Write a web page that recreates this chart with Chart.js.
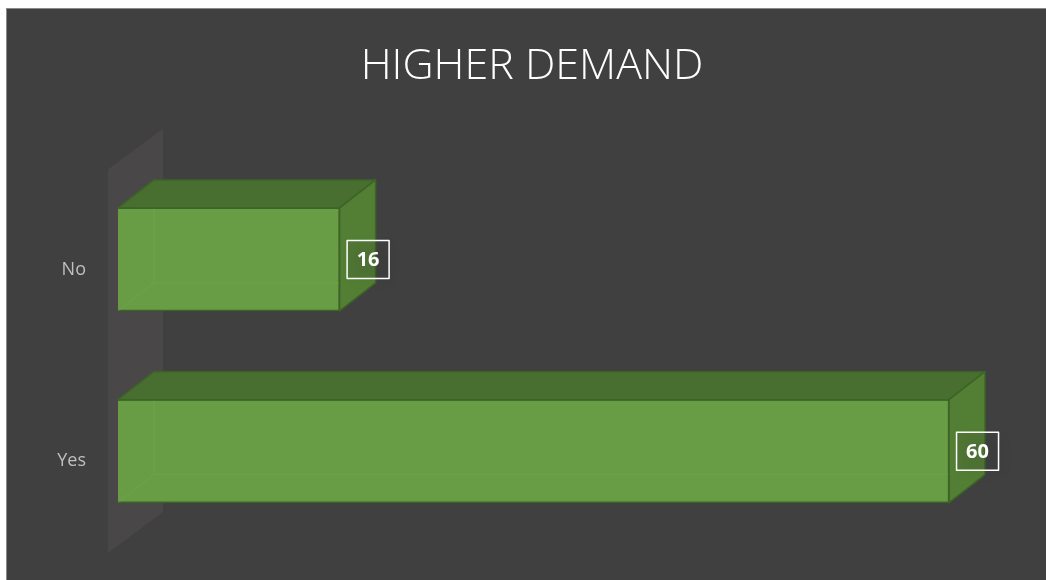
<!DOCTYPE html>
<html lang="en">
<head>
    <meta charset="UTF-8">
    <title>Higher Demand</title>
    <style>
        body {
            margin: 0;
            background-color: #ffffff;
            overflow: hidden;
        }
        #frame {
            position: absolute;
            left: 6px;
            top: 8px;
            border-left: 1px solid #8a8a8a;
            border-top: 1px solid #8a8a8a;
            background-color: #404040;
            width: 1039px;
            height: 571px;
        }
        #chart {
            display: block;
        }
    </style>
</head>
<body>
    <div id="frame">
        <canvas id="chart" width="1039" height="571"></canvas>
    </div>
<script src="https://cdn.jsdelivr.net/npm/chart.js"></script>
<script>
    // chart data
    const categories = ['No', 'Yes'];
    const responses = [16, 60];
    const chartTitle = 'HIGHER DEMAND';

    // 3D look
    const depthX = 36;
    const depthY = -28;
    const frontColor = '#689c45';
    const topColor = '#486e30';
    const sideColor = '#537f34';
    const edgeColor = '#3d6427';

    // back wall behind the bars
    const wallPlugin = {
        id: 'wall',
        beforeDatasetsDraw(chart) {
            const a = chart.chartArea;
            const ctx = chart.ctx;
            const x0 = a.left - 10;
            ctx.save();
            ctx.fillStyle = '#494748';
            ctx.beginPath();
            ctx.moveTo(x0, a.top + 6);
            ctx.lineTo(x0 + 55, a.top - 35);
            ctx.lineTo(x0 + 55, a.bottom - 35);
            ctx.lineTo(x0, a.bottom + 6);
            ctx.closePath();
            ctx.fill();
            ctx.restore();
        }
    };

    // top and side faces plus value boxes
    const boxPlugin = {
        id: 'box3d',
        afterDatasetsDraw(chart) {
            const ctx = chart.ctx;
            const meta = chart.getDatasetMeta(0);
            meta.data.forEach((bar, i) => {
                const p = bar.getProps(['x', 'y', 'base', 'height'], true);
                const left = p.base;
                const right = p.x;
                const top = p.y - p.height / 2;
                const bottom = p.y + p.height / 2;
                ctx.save();
                ctx.lineJoin = 'round';

                // hidden back edges seen through the front face
                ctx.strokeStyle = 'rgba(120,180,80,0.35)';
                ctx.lineWidth = 1;
                ctx.beginPath();
                ctx.moveTo(left + depthX, top + depthY);
                ctx.lineTo(left + depthX, bottom + depthY);
                ctx.lineTo(right + depthX, bottom + depthY);
                ctx.moveTo(left, bottom);
                ctx.lineTo(left + depthX, bottom + depthY);
                ctx.stroke();

                ctx.lineWidth = 1.5;
                ctx.strokeStyle = edgeColor;
                // top face
                ctx.fillStyle = topColor;
                ctx.beginPath();
                ctx.moveTo(left, top);
                ctx.lineTo(left + depthX, top + depthY);
                ctx.lineTo(right + depthX, top + depthY);
                ctx.lineTo(right, top);
                ctx.closePath();
                ctx.fill();
                ctx.stroke();

                // side face
                ctx.fillStyle = sideColor;
                ctx.beginPath();
                ctx.moveTo(right, top);
                ctx.lineTo(right + depthX, top + depthY);
                ctx.lineTo(right + depthX, bottom + depthY);
                ctx.lineTo(right, bottom);
                ctx.closePath();
                ctx.fill();
                ctx.stroke();

                // value label box
                const cx = right + 28.5;
                const cy = p.y;
                const w = 42, h = 38;
                ctx.shadowColor = 'rgba(0,0,0,0.45)';
                ctx.shadowBlur = 10;
                ctx.shadowOffsetX = 4;
                ctx.shadowOffsetY = 4;
                ctx.fillStyle = 'rgba(64,64,64,0.12)';
                ctx.fillRect(cx - w / 2, cy - h / 2, w, h);
                ctx.shadowColor = 'transparent';
                ctx.strokeStyle = '#ffffff';
                ctx.lineWidth = 1.5;
                ctx.strokeRect(cx - w / 2, cy - h / 2, w, h);
                ctx.fillStyle = '#ffffff';
                ctx.font = 'bold 20px "Open Sans", sans-serif';
                ctx.textAlign = 'center';
                ctx.textBaseline = 'middle';
                ctx.fillText(String(responses[i]), cx, cy + 1);
                ctx.restore();
            });
        }
    };

    const ctx = document.getElementById('chart').getContext('2d');
    const chart = new Chart(ctx, {
        type: 'bar',
        data: {
            labels: categories,
            datasets: [{
                data: responses,
                backgroundColor: frontColor,
                borderColor: edgeColor,
                borderWidth: 1.5,
                barThickness: 103
            }]
        },
        options: {
            indexAxis: 'y',
            responsive: false,
            animation: false,
            layout: {
                padding: { left: 11, top: 0, right: 0, bottom: 33 }
            },
            plugins: {
                legend: { display: false },
                tooltip: { enabled: false },
                title: {
                    display: true,
                    text: chartTitle,
                    color: '#ffffff',
                    font: { family: '"Open Sans", sans-serif', size: 43, weight: 300, lineHeight: 1.2 },
                    padding: { top: 32, bottom: 71 }
                }
            },
            scales: {
                x: {
                    display: false,
                    min: 0,
                    max: 67
                },
                y: {
                    grid: { display: false, drawTicks: false },
                    border: { display: false },
                    ticks: {
                        color: '#bfbfbf',
                        font: { family: '"Open Sans", sans-serif', size: 18 },
                        padding: 32,
                        labelOffset: 10
                    },
                    afterFit(scale) {
                        scale.width = 100;
                        scale.paddingTop = 0;
                        scale.paddingBottom = 0;
                    }
                }
            }
        },
        plugins: [wallPlugin, boxPlugin]
    });
</script>
</body>
</html>
